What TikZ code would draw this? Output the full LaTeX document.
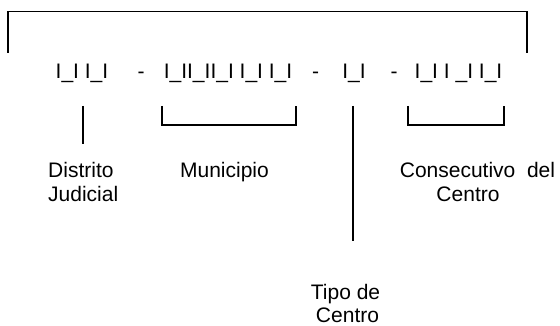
\documentclass[tikz,border=0pt]{standalone}
\usepackage{fontspec}
\setmainfont{Liberation Sans}
\begin{document}
\begin{tikzpicture}[x=1pt,y=-1pt,
  txt/.style={inner sep=0pt, font=\fontsize{21}{23}\selectfont},
  ln/.style={line width=1.3pt, line cap=butt, line join=miter}]
\useasboundingbox (0,0) rectangle (560,326);
% top bracket
\coordinate (tl) at (8,53);
\coordinate (tr) at (527,53);
\draw[ln] (tl) -- (8,11.5) -- (527,11.5) -- (tr);
% code line
\node[txt,anchor=base] (g1) at (82,79) {I\_I I\_I};
\node[txt,anchor=base] (d1) at (141,79) {-};
\node[txt,anchor=base] (g2) at (228,79) {I\_II\_II\_I I\_I I\_I};
\node[txt,anchor=base] (d2) at (315.5,79) {-};
\node[txt,anchor=base] (g3) at (354,79) {I\_I};
\node[txt,anchor=base] (d3) at (394,79) {-};
\node[txt,anchor=base] (g4) at (458.5,79) {I\_I I \_I I\_I};
% markers
\coordinate (a1) at (83,106);
\coordinate (a2) at (83,144);
\draw[ln] (a1) -- (a2);
\coordinate (m1) at (162,106);
\coordinate (m2) at (296,106);
\draw[ln] (m1) -- (162,125) -- (296,125) -- (m2);
\coordinate (t1) at (353,106);
\coordinate (t2) at (353,241);
\draw[ln] (t1) -- (t2);
\coordinate (c1) at (408,106);
\coordinate (c2) at (504,106);
\draw[ln] (c1) -- (408,125) -- (504,125) -- (c2);
% labels
\node[txt,anchor=base west] (dis1) at (48,178) {Distrito};
\node[txt,anchor=base west] (dis2) at (48,201) {Judicial};
\node[txt,anchor=base] (mun) at (224.5,178) {Municipio};
\node[txt,anchor=base] (con1) at (477.5,178) {Consecutivo\ \ del};
\node[txt,anchor=base] (con2) at (468,201) {Centro};
\node[txt,anchor=base] (tip1) at (345.5,299) {Tipo de};
\node[txt,anchor=base] (tip2) at (347.5,322) {Centro};
\end{tikzpicture}
\end{document}
